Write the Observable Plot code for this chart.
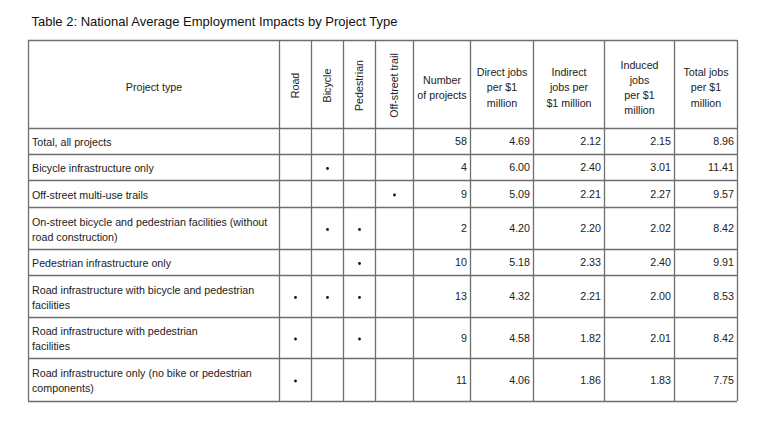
<!DOCTYPE html>
<html>
<head>
<meta charset="utf-8">
<script src="https://cdn.jsdelivr.net/npm/d3@7"></script>
<script src="https://cdn.jsdelivr.net/npm/@observablehq/plot@0.6"></script>
<style>
  html, body { margin: 0; padding: 0; background: #fff; }
  #chart svg { display: block; }
</style>
</head>
<body>
<div id="chart"></div>
<script>
// ---------- data ----------
const title = "Table 2: National Average Employment Impacts by Project Type";
const columnHeaders = [
  "Project type", "Road", "Bicycle", "Pedestrian", "Off-street trail",
  "Number\nof projects", "Direct jobs\nper $1\nmillion", "Indirect\njobs per\n$1 million",
  "Induced\njobs\nper $1\nmillion", "Total jobs\nper $1\nmillion"
];
const projectTypes = [
  "Total, all projects",
  "Bicycle infrastructure only",
  "Off-street multi-use trails",
  "On-street bicycle and pedestrian facilities (without\nroad construction)",
  "Pedestrian infrastructure only",
  "Road infrastructure with bicycle and pedestrian\nfacilities",
  "Road infrastructure with pedestrian\nfacilities",
  "Road infrastructure only (no bike or pedestrian\ncomponents)"
];
const road       = [0, 0, 0, 0, 0, 1, 1, 1];
const bicycle    = [0, 1, 0, 1, 0, 1, 0, 0];
const pedestrian = [0, 0, 0, 1, 1, 1, 1, 0];
const offStreet  = [0, 0, 1, 0, 0, 0, 0, 0];
const numProjects = [58, 4, 9, 2, 10, 13, 9, 11];
const directJobs   = [4.69, 6.00, 5.09, 4.20, 5.18, 4.32, 4.58, 4.06];
const indirectJobs = [2.12, 2.40, 2.21, 2.20, 2.33, 2.21, 1.82, 1.86];
const inducedJobs  = [2.15, 3.01, 2.27, 2.02, 2.40, 2.00, 2.01, 1.83];
const totalJobs    = [8.96, 11.41, 9.57, 8.42, 9.91, 8.53, 8.42, 7.75];

// ---------- layout ----------
const colEdges = [28, 279, 311, 343, 375, 413, 470, 533, 604, 674, 737];
const rowEdges = [40, 128, 154, 180, 207, 249, 275, 317, 358, 401];
const FONT = "'Liberation Sans', Arial, sans-serif";
const BODY = 10.7;

const colCenter = c => (colEdges[c] + colEdges[c + 1]) / 2;
const rowCenter = r => (rowEdges[r + 1] + rowEdges[r + 2]) / 2; // body row r
const headerMid = 86;

// header cells
const headerFlat = columnHeaders.map((t, c) => ({t, c})).filter(d => d.c === 0 || d.c >= 5);
const headerRot = columnHeaders.map((t, c) => ({t, c})).filter(d => d.c >= 1 && d.c <= 4);

// body text cells
const labelCells = projectTypes.map((t, r) => ({t, r}));
const numberCols = [numProjects, directJobs, indirectJobs, inducedJobs, totalJobs];
const numberCells = [];
numberCols.forEach((arr, k) => arr.forEach((v, r) => numberCells.push({
  t: k === 0 ? String(v) : v.toFixed(2), c: 5 + k, r
})));

// dots
const flagCols = [road, bicycle, pedestrian, offStreet];
const dotCells = [];
flagCols.forEach((arr, k) => arr.forEach((v, r) => { if (v) dotCells.push({c: 1 + k, r}); }));

// grid lines
const vLines = colEdges.map(x => ({x}));
const hLines = rowEdges.map(y => ({y}));

const lineColor = "#6e6e6e";
const textColor = "#222";

const chart = Plot.plot({
  width: 759,
  height: 421,
  margin: 0,
  x: {type: "identity", axis: null},
  y: {type: "identity", axis: null},
  style: {fontFamily: FONT, background: "#fff", color: textColor},
  marks: [
    // title
    Plot.text([title], {
      x: () => 31, y: () => 21, text: d => d, textAnchor: "start",
      fontSize: 13, fill: "#111", fontFamily: FONT
    }),
    // grid
    Plot.ruleX(vLines, {x: "x", y1: rowEdges[0], y2: rowEdges[rowEdges.length - 1], stroke: lineColor, strokeWidth: 1.3}),
    Plot.ruleY(hLines, {y: "y", x1: colEdges[0], x2: colEdges[colEdges.length - 1], stroke: lineColor, strokeWidth: 1.3}),
    // header (horizontal)
    Plot.text(headerFlat, {
      x: d => colCenter(d.c), y: () => headerMid, text: "t",
      fontSize: BODY, lineHeight: 1.42, fill: textColor, textAnchor: "middle"
    }),
    // header (rotated)
    Plot.text(headerRot, {
      x: d => colCenter(d.c), y: () => 85, text: "t", rotate: -90,
      fontSize: BODY, fill: textColor, textAnchor: "middle"
    }),
    // project labels
    Plot.text(labelCells, {
      x: () => colEdges[0] + 3.5, y: d => rowCenter(d.r), text: "t",
      fontSize: BODY, lineHeight: 1.42, fill: textColor, textAnchor: "start"
    }),
    // numbers
    Plot.text(numberCells, {
      x: d => colEdges[d.c + 1] - 3.5, y: d => rowCenter(d.r) + 0.5, text: "t",
      fontSize: BODY, fill: textColor, textAnchor: "end"
    }),
    // dots
    Plot.dot(dotCells, {
      x: d => colCenter(d.c), y: d => rowCenter(d.r) + 1, r: 1.4, fill: "#111", stroke: null
    })
  ]
});
document.getElementById("chart").appendChild(chart);
</script>
</body>
</html>
